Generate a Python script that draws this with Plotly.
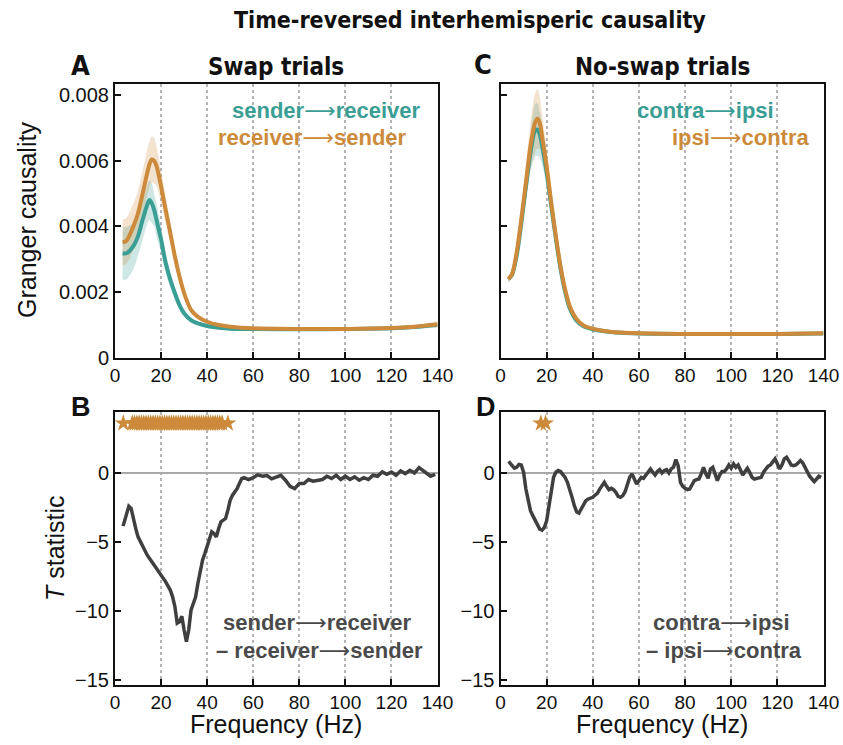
import plotly.graph_objects as go

W, H = 843, 745

TEAL = "rgb(58,158,148)"
ORANGE = "rgb(204,138,58)"
TEAL_BAND = "rgba(58,158,148,0.25)"
ORANGE_BAND = "rgba(204,138,58,0.25)"
GRAY = "#3f3f3f"

# ---------------- data ----------------
freq_A = [3.3, 5, 8, 10, 12, 14, 15, 16, 17, 18, 20, 22, 24, 26, 28, 30, 33, 36, 40, 45, 50, 60, 80, 100, 120, 130, 140]
send2recv_A = [0.00318, 0.00318, 0.0034, 0.0037, 0.0042, 0.00466, 0.0048, 0.0047, 0.0045, 0.0042, 0.0036, 0.00288,
               0.00237, 0.00196, 0.0016, 0.00135, 0.00114, 0.00104, 0.00096, 0.00091, 0.00088, 0.00087, 0.00086,
               0.00087, 0.00089, 0.00093, 0.001]
send2recv_A_sem = [0.0008, 0.0008, 0.0007, 0.0006, 0.0006, 0.0006, 0.0006, 0.0006, 0.0005, 0.0005, 0.0004, 0.0003,
                   0.00025, 0.0002, 0.00015, 0.0001, 0.00007, 0.00005, 0.00004, 0.00003, 0.00003, 0.00002, 0.00002,
                   0.00002, 0.00003, 0.00005, 0.00008]
recv2send_A = [0.00351, 0.00356, 0.0040, 0.0044, 0.0050, 0.00563, 0.0059, 0.00604, 0.0060, 0.00584, 0.00522, 0.0045,
               0.0038, 0.00308, 0.00247, 0.00196, 0.00145, 0.00124, 0.00109, 0.00099, 0.00094, 0.00089, 0.00087,
               0.00087, 0.0009, 0.00094, 0.00101]
recv2send_A_sem = [0.0007, 0.0007, 0.0007, 0.0007, 0.0007, 0.0007, 0.0007, 0.0007, 0.0007, 0.0006, 0.0005, 0.0004,
                   0.0003, 0.00025, 0.0002, 0.00015, 0.0001, 0.00007, 0.00005, 0.00004, 0.00003, 0.00002, 0.00002,
                   0.00002, 0.00003, 0.00005, 0.0001]

freq_C = [3.4, 5, 7, 9, 11, 13, 15, 16, 17, 18, 20, 22, 24, 26, 28, 30, 33, 36, 40, 45, 50, 60, 80, 100, 120, 140]
contra2ipsi_C = [0.00239, 0.00252, 0.0031, 0.00408, 0.0052, 0.00625, 0.00692, 0.00695, 0.0068, 0.00648, 0.00565,
                 0.00462, 0.00362, 0.00272, 0.002, 0.0015, 0.00112, 0.00095, 0.00086, 0.0008, 0.00076, 0.00073,
                 0.00072, 0.00072, 0.00072, 0.00073]
contra2ipsi_C_sem = [0.0001, 0.0001, 0.0002, 0.0003, 0.0004, 0.0006, 0.0008, 0.0008, 0.0007, 0.0006, 0.0004, 0.0003,
                     0.0002, 0.00015, 0.0001, 0.00007, 0.00005, 0.00003, 0.00002, 0.00002, 0.00002, 0.00002,
                     0.00002, 0.00002, 0.00002, 0.00002]
ipsi2contra_C = [0.00239, 0.00254, 0.0032, 0.00421, 0.00533, 0.00645, 0.00716, 0.00728, 0.00716, 0.00675, 0.00584,
                 0.00472, 0.0037, 0.00279, 0.00208, 0.00157, 0.00117, 0.00098, 0.00088, 0.00081, 0.00077, 0.00074,
                 0.00072, 0.00072, 0.00072, 0.00074]
ipsi2contra_C_sem = [0.0001, 0.0001, 0.0002, 0.0003, 0.0005, 0.0007, 0.0009, 0.0009, 0.0008, 0.0007, 0.0005, 0.0003,
                     0.0002, 0.00015, 0.0001, 0.00007, 0.00005, 0.00003, 0.00002, 0.00002, 0.00002, 0.00002,
                     0.00002, 0.00002, 0.00002, 0.00003]

freq_B = [3.5, 5, 6, 7, 8, 9, 10, 12, 14, 16, 18, 20, 22, 24, 25, 26, 27, 28, 29, 30, 31, 32, 33, 34, 35, 36, 37,
          38, 39, 40, 41, 42, 43, 44, 45, 46, 47, 48, 49, 50, 51, 52, 53, 54, 55, 56, 58, 60, 62, 64, 66, 68, 70,
          72, 74, 76, 78, 80, 82, 84, 86, 88, 90, 92, 94, 96, 98, 100, 102, 104, 106, 108, 110, 112, 114, 116,
          118, 120, 122, 124, 126, 128, 130, 132, 134, 136, 137, 139]
tstat_B = [-3.86, -2.95, -2.42, -2.58, -3.43, -4.03, -4.64, -5.36, -5.97, -6.45, -6.93, -7.42, -7.9, -8.5, -8.99,
           -9.7, -10.9, -10.8, -10.4, -11.4, -12.25, -11.4, -9.95, -9.47, -8.99, -8.0, -7.05, -6.33, -5.85, -5.36,
           -4.88, -4.28, -4.4, -4.64, -4.03, -3.55, -3.43, -3.31, -2.7, -1.98, -1.62, -1.38, -1.14, -0.77, -0.41,
           -0.34, -0.48, -0.34, -0.14, -0.24, -0.19, -0.43, -0.29, -0.17, -0.53, -0.97, -1.14, -0.77, -0.77,
           -0.48, -0.6, -0.53, -0.48, -0.24, -0.41, -0.17, -0.48, -0.24, -0.48, -0.29, -0.53, -0.34, -0.48,
           -0.17, -0.24, 0.07, -0.1, 0.07, -0.17, 0.14, -0.05, 0.19, 0.0, 0.39, 0.14, -0.05, -0.24, -0.1]
sig_B = [3.6] + [f + 0.5 for f in range(7, 47)] + [49]

freq_D = [3.5] + list(range(5, 140))
tstat_D = [0.83, 0.58, 0.34, 0.41, 0.61, 0.58, 0.05, -1.17, -2.14, -2.74, -3.1, -3.47, -3.83, -4.08, -4.15, -3.96,
           -3.47, -2.38, -1.17, -0.32, 0.05, 0.17, 0.1, -0.07, -0.32, -0.68, -1.17, -1.77, -2.38, -2.82, -2.91,
           -2.62, -2.33, -2.01, -1.89, -1.84, -1.77, -1.6, -1.48, -1.17, -0.92, -0.68, -0.97, -1.21, -1.12,
           -1.21, -1.41, -1.7, -1.77, -1.65, -1.36, -0.92, -0.32, -0.07, -0.44, -0.8, -0.56, -0.32, -0.39, -0.19,
           0.05, 0.29, 0.05, -0.15, 0.1, 0.24, 0.0, 0.17, 0.24, 0.0, 0.29, 0.41, 0.97, 0.53, -0.68, -0.97, -1.12,
           -1.21, -1.17, -0.92, -0.56, -0.49, -0.44, -0.07, 0.41, -0.07, -0.39, 0.29, 0.41, -0.07, -0.56, -0.15,
           0.1, 0.1, 0.29, 0.58, 0.34, 0.66, 0.41, 0.58, 0.17, -0.15, 0.1, 0.34, 0.05, -0.32, -0.44, -0.39,
           -0.32, -0.32, 0.05, 0.29, 0.49, 0.58, 0.83, 1.02, 0.66, 0.29, 0.58, 1.02, 1.14, 0.9, 0.58, 0.53, 0.58,
           0.73, 0.9, 0.73, 0.41, 0.05, -0.24, -0.44, -0.63, -0.44, -0.24, -0.32]
sig_D = [17.5, 19.5]
star_level = 3.6

x_ticks = [0, 20, 40, 60, 80, 100, 120, 140]
gc_ticks = [0, 0.002, 0.004, 0.006, 0.008]
gc_ticklabels = ["0", "0.002", "0.004", "0.006", "0.008"]
t_ticks = [-15, -10, -5, 0]

# ---------------- figure ----------------
fig = go.Figure()


def band(x, m, s, color, xa, ya):
    lo = [a - b for a, b in zip(m, s)]
    hi = [a + b for a, b in zip(m, s)]
    fig.add_trace(go.Scatter(x=x, y=lo, mode="lines", line=dict(width=0, shape="spline", smoothing=0.8),
                             hoverinfo="skip", showlegend=False, xaxis=xa, yaxis=ya))
    fig.add_trace(go.Scatter(x=x, y=hi, mode="lines", line=dict(width=0, shape="spline", smoothing=0.8),
                             fill="tonexty", fillcolor=color, hoverinfo="skip", showlegend=False,
                             xaxis=xa, yaxis=ya))


def curve(x, y, color, xa, ya):
    fig.add_trace(go.Scatter(x=x, y=y, mode="lines", line=dict(color=color, width=4, shape="spline", smoothing=0.8),
                             showlegend=False, xaxis=xa, yaxis=ya))


# Panel A
band(freq_A, send2recv_A, send2recv_A_sem, TEAL_BAND, "x", "y")
band(freq_A, recv2send_A, recv2send_A_sem, ORANGE_BAND, "x", "y")
curve(freq_A, send2recv_A, TEAL, "x", "y")
curve(freq_A, recv2send_A, ORANGE, "x", "y")

# Panel C
band(freq_C, contra2ipsi_C, contra2ipsi_C_sem, TEAL_BAND, "x2", "y2")
band(freq_C, ipsi2contra_C, ipsi2contra_C_sem, ORANGE_BAND, "x2", "y2")
curve(freq_C, contra2ipsi_C, TEAL, "x2", "y2")
curve(freq_C, ipsi2contra_C, ORANGE, "x2", "y2")

# Panel B
fig.add_trace(go.Scatter(x=freq_B, y=tstat_B, mode="lines", line=dict(color=GRAY, width=3.5),
                         showlegend=False, xaxis="x3", yaxis="y3"))
fig.add_trace(go.Scatter(x=sig_B, y=[star_level] * len(sig_B), mode="markers",
                         marker=dict(symbol="star", size=13, color=ORANGE, line=dict(width=0)),
                         showlegend=False, xaxis="x3", yaxis="y3"))

# Panel D
fig.add_trace(go.Scatter(x=freq_D, y=tstat_D, mode="lines", line=dict(color=GRAY, width=3.5),
                         showlegend=False, xaxis="x4", yaxis="y4"))
fig.add_trace(go.Scatter(x=sig_D, y=[star_level] * len(sig_D), mode="markers",
                         marker=dict(symbol="star", size=13, color=ORANGE, line=dict(width=0)),
                         showlegend=False, xaxis="x4", yaxis="y4"))

YTICKFONT = dict(family="Liberation Sans, Arial, sans-serif", size=20, color="#111111")
XTICKFONT = dict(family="Liberation Sans, Arial, sans-serif", size=19, color="#111111")


def xax(domain, anchor):
    return dict(domain=domain, anchor=anchor, range=[0, 140], tickvals=x_ticks, ticks="inside",
                ticklen=6, tickwidth=2, tickcolor="#111111", showline=True, linewidth=2, linecolor="#111111",
                mirror=True, showgrid=True, gridcolor="#b5b5b5", griddash="dot", gridwidth=1.5,
                zeroline=False, tickfont=XTICKFONT, automargin=False)


def yax(domain, anchor, rng, tickvals, ticktext=None, showlabels=True, zero=False):
    d = dict(domain=domain, anchor=anchor, range=rng, tickvals=tickvals, ticks="inside", ticklen=6,
             tickwidth=2, tickcolor="#111111", showline=True, linewidth=2, linecolor="#111111", mirror=True,
             showgrid=False, showticklabels=showlabels, tickfont=YTICKFONT, automargin=False,
             zeroline=zero, zerolinecolor="#a8a8a8", zerolinewidth=1.5)
    if ticktext is not None:
        d["ticktext"] = ticktext
    return d


def px_x(p):
    # page pixel -> paper fraction
    return p / W


def px_y(p):
    return 1 - p / H


dom_xA = [px_x(115), px_x(437.5)]
dom_xC = [px_x(500.5), px_x(823.5)]
dom_yTop = [px_y(357.5), px_y(84)]
dom_yBot = [px_y(684.5), px_y(412)]

fig.update_layout(
    width=W, height=H, margin=dict(l=0, r=0, t=0, b=0, autoexpand=False),
    plot_bgcolor="white", paper_bgcolor="white",
    xaxis=xax(dom_xA, "y"),
    yaxis=yax(dom_yTop, "x", [0, 0.00834], gc_ticks, gc_ticklabels),
    xaxis2=xax(dom_xC, "y2"),
    yaxis2=yax(dom_yTop, "x2", [0, 0.00834], gc_ticks, showlabels=False),
    xaxis3=xax(dom_xA, "y3"),
    yaxis3=yax(dom_yBot, "x3", [-15.35, 4.42], t_ticks, zero=True),
    xaxis4=xax(dom_xC, "y4"),
    yaxis4=yax(dom_yBot, "x4", [-15.35, 4.42], t_ticks, zero=True),
)

NARROW_BOLD = "Liberation Sans Narrow, Arial Narrow, DejaVu Sans Condensed, sans-serif"
SANS = "Liberation Sans, Arial, sans-serif"
ARROW = '<span style="font-family:DejaVu Sans;font-weight:normal">⟶</span>'


def txt(s, x, y, size, color="#111111", family=SANS, bold=False, angle=0, xanchor="center"):
    if bold:
        s = "<b>" + s + "</b>"
    fig.add_annotation(text=s, x=px_x(x), y=px_y(y), xref="paper", yref="paper", showarrow=False,
                       font=dict(family=family, size=size, color=color), textangle=angle,
                       xanchor=xanchor, yanchor="middle")


txt("Time-reversed interhemisperic causality", 470, 20, 23, family=NARROW_BOLD, bold=True)
txt("A", 80, 66, 27, family=NARROW_BOLD, bold=True)
txt("Swap trials", 276, 67, 24, family=NARROW_BOLD, bold=True)
txt("C", 483, 64, 27, family=NARROW_BOLD, bold=True)
txt("No-swap trials", 662, 67, 24, family=NARROW_BOLD, bold=True)
txt("B", 81, 407, 27, bold=True)
txt("D", 486, 407, 27, bold=True)

txt("Granger causality", 27, 220, 25, angle=-90)
txt("<i>T</i> statistic", 55, 548, 25, angle=-90)
txt("Frequency (Hz)", 276, 724, 25)
txt("Frequency (Hz)", 662, 724, 25)

txt("sender" + ARROW + "receiver", 326, 110, 22, color=TEAL, bold=True)
txt("receiver" + ARROW + "sender", 312, 137, 22, color=ORANGE, bold=True)
txt("contra" + ARROW + "ipsi", 705, 110, 22, color=TEAL, bold=True)
txt("ipsi" + ARROW + "contra", 740, 137, 22, color=ORANGE, bold=True)

txt("sender" + ARROW + "receiver", 317, 622, 22, color="#4a4a4a", bold=True)
txt("– receiver" + ARROW + "sender", 319, 650, 22, color="#4a4a4a", bold=True)
txt("contra" + ARROW + "ipsi", 721, 622, 22, color="#4a4a4a", bold=True)
txt("– ipsi" + ARROW + "contra", 724, 650, 22, color="#4a4a4a", bold=True)

# remove the browser's default 8px body margin so the figure sits at the window's top-left corner
fig.write_html("out.html",
               config={"displayModeBar": False},
               post_script="document.body.style.margin='0';document.body.style.overflow='hidden';")
